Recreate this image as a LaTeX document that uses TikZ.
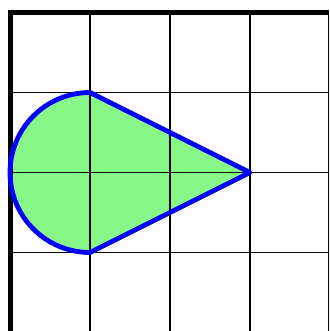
\documentclass[tikz,border=0pt]{standalone}
\begin{document}
\begin{tikzpicture}[x=1pt,y=-1pt,
  gridline/.style={line width=1.6pt,black},
  axisline/.style={line width=4.8pt,black},
  outline/.style={line width=4.8pt,blue,line join=round},
  greenfill/.style={fill={rgb,255:red,135;green,248;blue,135}}]
\useasboundingbox (0,0) rectangle (329,331);
\coordinate (c) at (90,172.5);
\coordinate (top) at (90,92.5);
\coordinate (bot) at (90,252.5);
\coordinate (tip) at (250,172.5);
% fill
\fill[greenfill] (top) arc[start angle=270,end angle=90,radius=80] -- (tip) -- cycle;
% grid
\foreach \x in {90,170,250,328.5} \draw[gridline] (\x,12.5) -- (\x,331);
\foreach \y in {92.5,172.5,252.5} \draw[gridline] (10,\y) -- (329,\y);
\draw[axisline] (10.5,10.1) -- (10.5,331);
\draw[axisline] (8.1,12.5) -- (329,12.5);
% outline
\draw[outline] (top) arc[start angle=270,end angle=90,radius=80] -- (tip) -- cycle;
\end{tikzpicture}
\end{document}
